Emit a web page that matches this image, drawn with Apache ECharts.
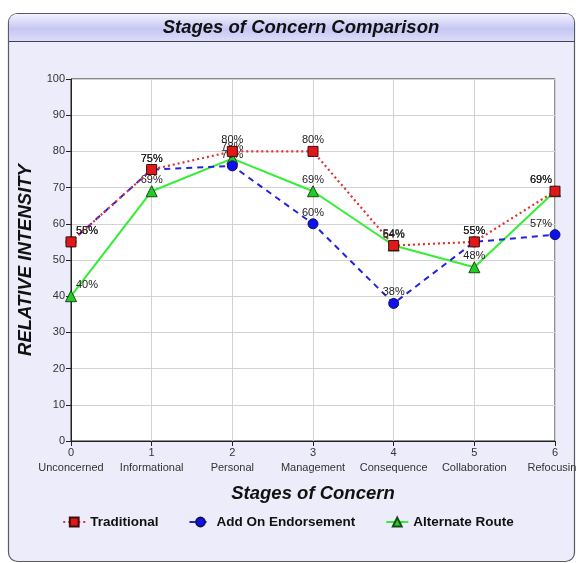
<!DOCTYPE html>
<html>
<head>
<meta charset="utf-8">
<script src="https://cdn.jsdelivr.net/npm/echarts@6/dist/echarts.min.js"></script>
<style>
  html, body { margin: 0; padding: 0; background: #ffffff; }
  #chart { width: 576px; height: 563px; }
</style>
</head>
<body>
<div id="chart"></div>
<script>
// Stage numbers and names shown along the horizontal axis
const stageNumbers = ['0', '1', '2', '3', '4', '5', '6'];
const stageNames = ['Unconcerned', 'Informational', 'Personal', 'Management', 'Consequence', 'Collaboration', 'Refocusing'];

// Relative intensity (%) per stage for each group
const traditional = [55, 75, 80, 80, 54, 55, 69];
const addOnEndorsement = [55, 75, 76, 60, 38, 55, 57];
const alternateRoute = [40, 69, 78, 69, 54, 48, 69];

// Y axis ticks
const yMin = 0, yMax = 100, yStep = 10;

const FONT = 'Liberation Sans, Arial, sans-serif';

// Per-point label tweaks so labels at the edges stay inside the plot
function pointData(values) {
  return values.map((v, i) => {
    const item = { value: v };
    if (i === 0) item.label = { offset: [16, 0] };
    if (i === values.length - 1) item.label = { offset: [-14, 0] };
    return item;
  });
}

const labelStyle = {
  show: true,
  position: 'top',
  distance: 0,
  formatter: '{c}%',
  fontFamily: FONT,
  fontSize: 11,
  color: '#222'
};

const chart = echarts.init(document.getElementById('chart'), null, { renderer: 'canvas' });

chart.setOption({
  animation: false,
  backgroundColor: '#ffffff',
  graphic: [
    {
      type: 'rect', z: -10, silent: true,
      shape: { x: 8.5, y: 13.5, width: 566, height: 548, r: 9 },
      style: { fill: '#ececfa', stroke: '#5a5a66', lineWidth: 1.2 }
    },
    {
      type: 'rect', z: -9, silent: true,
      shape: { x: 9, y: 14, width: 565, height: 27, r: [8, 8, 0, 0] },
      style: {
        fill: new echarts.graphic.LinearGradient(0, 0, 0, 1, [
          { offset: 0, color: '#f2f2fd' },
          { offset: 0.55, color: '#c6c6f4' },
          { offset: 1, color: '#dcdcf8' }
        ])
      }
    },
    {
      type: 'line', z: -8, silent: true,
      shape: { x1: 9, y1: 41.5, x2: 575, y2: 41.5 },
      style: { stroke: '#444450', lineWidth: 1 }
    }
  ],
  title: {
    text: 'Stages of Concern Comparison',
    left: 296, top: 13, textAlign: 'center',
    textStyle: { fontFamily: FONT, fontSize: 18.5, fontWeight: 'bold', fontStyle: 'italic', color: '#111' }
  },
  legend: {
    top: 510, left: 'center',
    itemGap: 30, itemWidth: 22, itemHeight: 11,
    textStyle: { fontFamily: FONT, fontSize: 13.5, fontWeight: 'bold', color: '#111' },
    data: ['Traditional', 'Add On Endorsement', 'Alternate Route']
  },
  grid: {
    left: 71, top: 79, right: 21, bottom: 122,
    outerBoundsMode: 'none',
    show: true, backgroundColor: '#ffffff', borderColor: '#222', borderWidth: 1
  },
  xAxis: {
    type: 'category',
    data: stageNumbers,
    boundaryGap: false,
    name: 'Stages of Concern',
    nameLocation: 'middle',
    nameGap: 43,
    nameTextStyle: { fontFamily: FONT, fontSize: 18.5, fontWeight: 'bold', fontStyle: 'italic', color: '#111' },
    axisLine: { lineStyle: { color: '#222', width: 1 } },
    axisTick: { show: true, alignWithLabel: true, length: 5, lineStyle: { color: '#222' } },
    axisLabel: {
      fontFamily: FONT, fontSize: 11, color: '#333', margin: 4, lineHeight: 15,
      interval: 0,
      formatter: (v, i) => v + '\n' + stageNames[i]
    },
    splitLine: { show: true, lineStyle: { color: '#d2d2d2', width: 1 } }
  },
  yAxis: {
    type: 'value',
    min: yMin, max: yMax, interval: yStep,
    name: 'RELATIVE INTENSITY',
    nameLocation: 'middle',
    nameGap: 33,
    nameTextStyle: { fontFamily: FONT, fontSize: 18.5, fontWeight: 'bold', fontStyle: 'italic', color: '#111' },
    axisLine: { show: true, lineStyle: { color: '#222', width: 1 } },
    axisTick: { show: true, length: 5, lineStyle: { color: '#222' } },
    axisLabel: { fontFamily: FONT, fontSize: 11, color: '#333', margin: 6 },
    splitLine: { show: true, lineStyle: { color: '#d2d2d2', width: 1 } }
  },
  series: [
    {
      name: 'Alternate Route',
      type: 'line',
      z: 2,
      data: pointData(alternateRoute),
      symbol: 'triangle', symbolSize: 11,
      lineStyle: { color: '#33ee33', width: 2, type: 'solid' },
      itemStyle: { color: '#22cc22', borderColor: '#1a4a1a', borderWidth: 1 },
      label: labelStyle
    },
    {
      name: 'Add On Endorsement',
      type: 'line',
      z: 3,
      data: pointData(addOnEndorsement),
      symbol: 'circle', symbolSize: 10,
      lineStyle: { color: '#2222dd', width: 2, type: [6, 5] },
      itemStyle: { color: '#1010ee', borderColor: '#101060', borderWidth: 1 },
      label: labelStyle
    },
    {
      name: 'Traditional',
      type: 'line',
      z: 4,
      data: pointData(traditional),
      symbol: 'rect', symbolSize: 10,
      lineStyle: { color: '#dd3333', width: 2.2, type: [2, 3] },
      itemStyle: { color: '#e01818', borderColor: '#3a1010', borderWidth: 1 },
      label: labelStyle
    }
  ]
});
</script>
</body>
</html>
